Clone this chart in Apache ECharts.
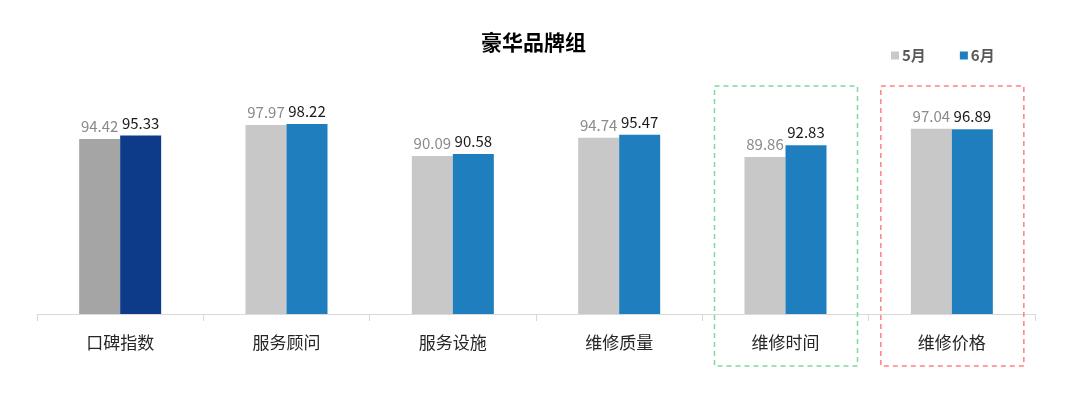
<!DOCTYPE html>
<html><head><meta charset="utf-8">
<script src="https://cdn.jsdelivr.net/npm/echarts@6/dist/echarts.min.js"></script>
<style>html,body{margin:0;padding:0;background:#fff}#c{width:1080px;height:400px}</style>
</head><body><div id="c"></div>
<script>
const categories = ['口碑指数','服务顾问','服务设施','维修质量','维修时间','维修价格'];
const may = [94.42, 97.97, 90.09, 94.74, 89.86, 97.04];
const june = [95.33, 98.22, 90.58, 95.47, 92.83, 96.89];
const seriesNames = ['5月','6月'];
const highlightBoxes = [{cat:'维修时间', color:'#7fd8a0'}, {cat:'维修价格', color:'#ff8080'}];

const font = "'Noto Sans CJK SC','Noto Sans',sans-serif";
const chart = echarts.init(document.getElementById('c'));
const mayData = may.map((v,i)=> i===0 ? {value:v, itemStyle:{color:'#a5a5a5'}} : v);
const juneData = june.map((v,i)=> i===0 ? {value:v, itemStyle:{color:'#0d3a89'}} : v);
chart.setOption({
  animation:false,
  title:{text:'豪华品牌组', left:476, top:27, textStyle:{fontFamily:font, fontSize:21, fontWeight:'bold', color:'#000'}},
  legend:{data:seriesNames, left:886, top:43, icon:'rect', itemWidth:8, itemHeight:8, itemGap:34,
    textStyle:{fontFamily:font, fontSize:15, color:'#595959', fontWeight:'bold', padding:[0,0,0,-2]}},
  grid:{left:37, right:45, top:117, bottom:86},
  xAxis:{type:'category', data:categories,
    axisLine:{lineStyle:{color:'#d9d9d9'}},
    axisTick:{show:true, length:7, lineStyle:{color:'#d9d9d9'}},
    axisLabel:{fontFamily:font, fontSize:17, color:'#262626', margin:20}},
  yAxis:{type:'value', min:50, max:100, show:false, splitLine:{show:false}},
  series:[
    {name:seriesNames[0], type:'bar', data:mayData, barWidth:41, barGap:'0%', itemStyle:{color:'#c8c8c8'},
     label:{show:true, position:'top', distance:5, fontFamily:font, fontSize:15, color:'#8a8a8a'}},
    {name:seriesNames[1], type:'bar', data:juneData, barWidth:41, itemStyle:{color:'#1f7fbe'},
     label:{show:true, position:'top', distance:5, fontFamily:font, fontSize:15, color:'#1a1a1a'}}
  ]
});
const boxes = highlightBoxes.map(b=>{
  const cx = chart.convertToPixel({xAxisIndex:0}, b.cat);
  return {type:'rect', shape:{x:cx-71, y:86, width:143, height:280},
    style:{fill:'none', stroke:b.color, lineWidth:1.5, lineDash:[5,4]}, z:10};
});
chart.setOption({graphic:boxes});
</script></body></html>
